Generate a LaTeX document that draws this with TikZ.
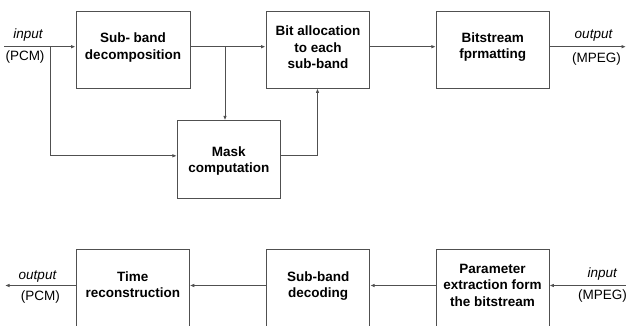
\documentclass[tikz,border=0pt]{standalone}
\usepackage{fontspec}
\setmainfont{Liberation Sans}
\usetikzlibrary{arrows.meta,calc}
\definecolor{linecol}{RGB}{80,80,80}
\tikzset{
  blk/.style={draw=linecol, line width=0.9pt, inner sep=0pt, minimum width=#1},
  txt/.style={font=\fontsize{13.5}{16.5}\selectfont\bfseries, align=center, inner sep=0pt},
  lbl/.style={font=\fontsize{13.5}{16}\selectfont, inner sep=0pt, anchor=base},
  arr/.style={draw=linecol, line width=0.9pt, -{Latex[length=4.5pt,width=3.6pt]}},
  ln/.style={draw=linecol, line width=0.9pt}
}
\begin{document}
\begin{tikzpicture}[x=1pt,y=-1pt]
\useasboundingbox (0,0) rectangle (626,326);
\clip (0,0) rectangle (626,326);
% top row boxes
\node[blk=114, minimum height=77] (b1) at (133,49.5) {};
\node[blk=103.7, minimum height=77] (b2) at (317.8,49.5) {};
\node[blk=113, minimum height=77] (b3) at (492.8,49.5) {};
\node[blk=103, minimum height=77.3] (mk) at (228.8,159.4) {};
\node[txt] (b1t) at (133,47.4) {Sub- band\\decomposition};
\node[txt] (b2t) at (318,47.5) {Bit allocation\\to each\\sub-band};
\node[txt] (b3t) at (492.8,47.2) {Bitstream\\fprmatting};
\node[txt] (mkt) at (228.8,161) {Mask\\computation};
% bottom row boxes
\node[blk=113, minimum height=80] (t) at (132.8,289) {};
\node[blk=103, minimum height=80] (d) at (318.2,289) {};
\node[blk=113, minimum height=80] (p) at (492.5,289) {};
\node[txt] (tt) at (132.8,284.5) {Time\\reconstruction};
\node[txt] (dt) at (318.2,286) {Sub-band\\decoding};
\node[txt] (pt) at (492.5,285) {Parameter\\extraction form\\the bitstream};
% labels
\node[lbl] (l1) at (28,39) {\itshape input};
\node[lbl] (l2) at (25,60.3) {(PCM)};
\node[lbl] (l3) at (593.5,39) {\itshape output};
\node[lbl] (l4) at (596.5,62.5) {(MPEG)};
\node[lbl] (l5) at (37.5,279) {\itshape output};
\node[lbl] (l6) at (40.3,300) {(PCM)};
\node[lbl] (l7) at (602.3,277.7) {\itshape input};
\node[lbl] (l8) at (602.5,299.3) {(MPEG)};
% coordinates
\coordinate (inA) at (4,46.7);
\coordinate (brA) at (50,46.7);
\coordinate (brB) at (225,46.7);
\coordinate (outA) at (626,46.7);
\coordinate (mY) at (0,155.8);
\coordinate (upX) at (317.5,0);
\coordinate (inB) at (626,285.5);
\coordinate (outB) at (5,285.5);
% top connectors
\draw[arr] (inA) -- (b1.west |- inA);
\draw[arr] (brA) |- (mk.west |- mY);
\draw[arr] (b1.east |- inA) -- (b2.west |- inA);
\draw[arr] (brB) -- (brB |- mk.north);
\draw[arr] (mk.east |- mY) -| (upX |- b2.south);
\draw[arr] (b2.east |- inA) -- (b3.west |- inA);
\draw[arr] (b3.east |- inA) -- (outA);
% bottom connectors
\draw[arr] (inB) -- (p.east |- inB);
\draw[arr] (p.west |- inB) -- (d.east |- inB);
\draw[arr] (d.west |- inB) -- (t.east |- inB);
\draw[arr] (t.west |- inB) -- (outB);
\end{tikzpicture}
\end{document}
